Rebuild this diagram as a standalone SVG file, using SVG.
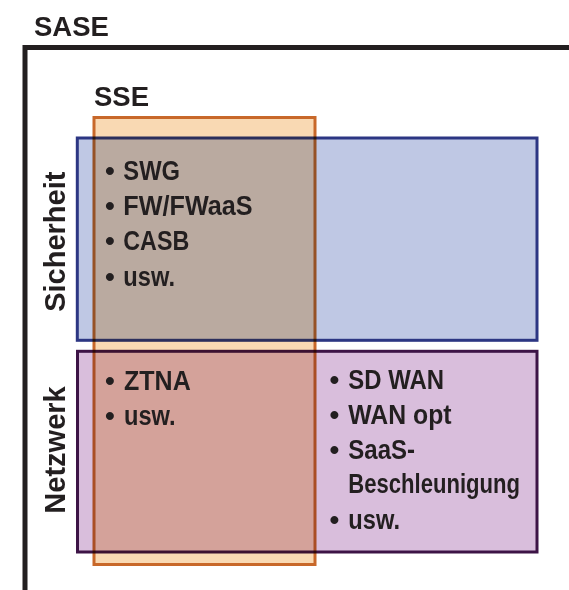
<svg xmlns="http://www.w3.org/2000/svg" width="569" height="590" viewBox="0 0 569 590">
<style>
.hd{font-family:"Liberation Sans",Arial,sans-serif;font-weight:bold;font-size:27.5px;fill:#231f20}
.side{font-family:"Liberation Sans",Arial,sans-serif;font-weight:bold;font-size:29px;fill:#231f20;text-anchor:middle}
.bd{font-family:"Liberation Sans",Arial,sans-serif;font-weight:bold;font-size:28px;fill:#231f20}
.mul{mix-blend-mode:multiply}
.sse{fill:#f9d9b3;stroke:#c8682a;stroke-width:3}
.sec{fill:#bfc8e4;stroke:#2c3683;stroke-width:3}
.net{fill:#d9bedc;stroke:#3d1446;stroke-width:3}
</style>
<g id="sase">
  <path d="M25,590 V47.5 H569" fill="none" stroke="#231f20" stroke-width="5"/>
  <text class="hd" x="34" y="35.5">SASE</text>
</g>
<g id="sse">
  <rect class="sse" x="94" y="117.5" width="221" height="447"/>
  <text class="hd" x="94" y="106">SSE</text>
</g>
<g id="sicherheit">
  <rect class="sec mul" x="77.3" y="138" width="459.7" height="202.3"/>
  <text class="side" transform="translate(65,241.7) rotate(-90)">Sicherheit</text>
</g>
<g id="netzwerk">
  <rect class="net mul" x="77.5" y="351.3" width="459.5" height="200.7"/>
  <text class="side" transform="translate(65,450) rotate(-90)">Netzwerk</text>
</g>
<g id="sse-security-items">
  <text class="bd" y="180"><tspan x="105">•</tspan><tspan x="123.3" textLength="56.7" lengthAdjust="spacingAndGlyphs">SWG</tspan></text>
  <text class="bd" y="215"><tspan x="105">•</tspan><tspan x="123.3" textLength="129.3" lengthAdjust="spacingAndGlyphs">FW/FWaaS</tspan></text>
  <text class="bd" y="250"><tspan x="105">•</tspan><tspan x="123.3" textLength="66" lengthAdjust="spacingAndGlyphs">CASB</tspan></text>
  <text class="bd" y="285.5"><tspan x="105">•</tspan><tspan x="123.3" textLength="51.7" lengthAdjust="spacingAndGlyphs">usw.</tspan></text>
</g>
<g id="sse-network-items">
  <text class="bd" y="390"><tspan x="105">•</tspan><tspan x="124" textLength="66.7" lengthAdjust="spacingAndGlyphs">ZTNA</tspan></text>
  <text class="bd" y="425"><tspan x="105">•</tspan><tspan x="124" textLength="51.7" lengthAdjust="spacingAndGlyphs">usw.</tspan></text>
</g>
<g id="network-items">
  <text class="bd" y="389"><tspan x="329.5">•</tspan><tspan x="348.3" textLength="95.7" lengthAdjust="spacingAndGlyphs">SD WAN</tspan></text>
  <text class="bd" y="424"><tspan x="329.5">•</tspan><tspan x="348.3" textLength="103.3" lengthAdjust="spacingAndGlyphs">WAN opt</tspan></text>
  <text class="bd" y="458.5"><tspan x="329.5">•</tspan><tspan x="348.3" textLength="66.7" lengthAdjust="spacingAndGlyphs">SaaS-</tspan></text>
  <text class="bd" x="348.3" y="493" textLength="171.7" lengthAdjust="spacingAndGlyphs">Beschleunigung</text>
  <text class="bd" y="529"><tspan x="329.5">•</tspan><tspan x="348.3" textLength="51.7" lengthAdjust="spacingAndGlyphs">usw.</tspan></text>
</g>
</svg>
